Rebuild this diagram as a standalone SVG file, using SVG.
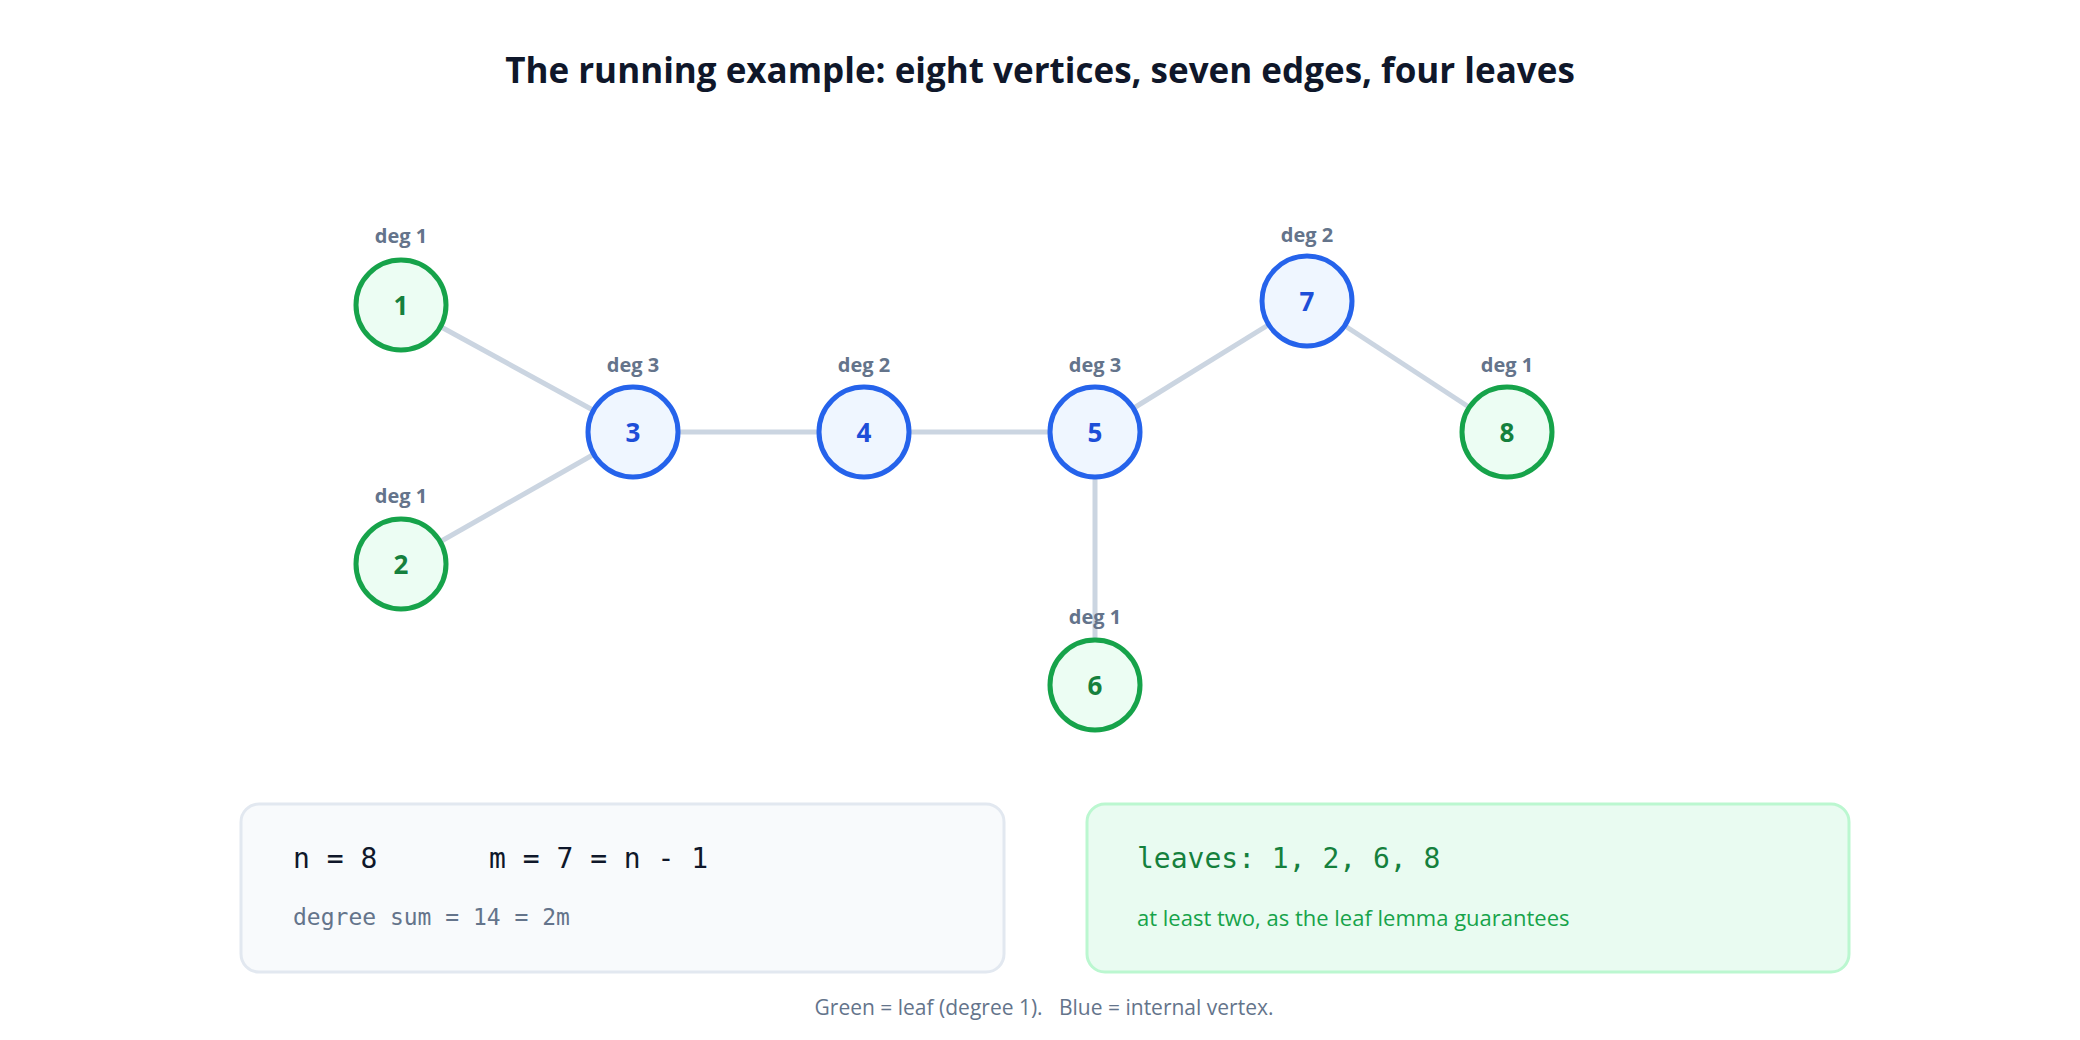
<svg xmlns="http://www.w3.org/2000/svg" width="2080" height="1040" viewBox="0 0 2080 1040">
<style>
text{font-family:"Open Sans","Noto Sans",sans-serif}
.leaf circle{fill:#ecfdf3;stroke:#16a34a;stroke-width:5}
.leaf text.n{fill:#15803d}
.int circle{fill:#eff6ff;stroke:#2563eb;stroke-width:5}
.int text.n{fill:#1d4ed8}
.n{font-size:26px;font-weight:700;text-anchor:middle}
.d{font-size:20px;font-weight:700;fill:#64748b;text-anchor:middle}
.e line{stroke:#cbd5e1;stroke-width:5}
.mono{font-family:"DejaVu Sans Mono","Liberation Mono",monospace}
</style>
<rect width="2080" height="1040" fill="#fff"/>
<text x="1040" y="83" font-size="35" font-weight="700" fill="#0f172a" text-anchor="middle">The running example: eight vertices, seven edges, four leaves</text>
<g id="edges" class="e">
<line x1="401" y1="305" x2="633" y2="432"/>
<line x1="401" y1="564" x2="633" y2="432"/>
<line x1="633" y1="432" x2="864" y2="432"/>
<line x1="864" y1="432" x2="1095" y2="432"/>
<line x1="1095" y1="432" x2="1307" y2="301"/>
<line x1="1307" y1="301" x2="1507" y2="432"/>
<line x1="1095" y1="432" x2="1095" y2="685"/>
</g>
<g id="n1" class="leaf"><text class="d" x="401" y="243">deg 1</text><circle cx="401" cy="305" r="45"/><text class="n" x="401" y="315">1</text></g>
<g id="n2" class="leaf"><text class="d" x="401" y="503">deg 1</text><circle cx="401" cy="564" r="45"/><text class="n" x="401" y="574">2</text></g>
<g id="n3" class="int"><text class="d" x="633" y="372">deg 3</text><circle cx="633" cy="432" r="45"/><text class="n" x="633" y="442">3</text></g>
<g id="n4" class="int"><text class="d" x="864" y="372">deg 2</text><circle cx="864" cy="432" r="45"/><text class="n" x="864" y="442">4</text></g>
<g id="n5" class="int"><text class="d" x="1095" y="372">deg 3</text><circle cx="1095" cy="432" r="45"/><text class="n" x="1095" y="442">5</text></g>
<g id="n6" class="leaf"><text class="d" x="1095" y="624">deg 1</text><circle cx="1095" cy="685" r="45"/><text class="n" x="1095" y="695">6</text></g>
<g id="n7" class="int"><text class="d" x="1307" y="242">deg 2</text><circle cx="1307" cy="301" r="45"/><text class="n" x="1307" y="311">7</text></g>
<g id="n8" class="leaf"><text class="d" x="1507" y="372">deg 1</text><circle cx="1507" cy="432" r="45"/><text class="n" x="1507" y="442">8</text></g>
<g id="box1"><rect x="241" y="804" width="763" height="168" rx="18" fill="#f8fafc" stroke="#e2e8f0" stroke-width="3"/>
<text class="mono" x="293" y="868" font-size="28" fill="#0f172a" xml:space="preserve">n = 8</text>
<text class="mono" x="489" y="868" font-size="28" fill="#0f172a">m = 7 = n - 1</text>
<text class="mono" x="293" y="925" font-size="23" fill="#64748b">degree sum = 14 = 2m</text></g>
<g id="box2"><rect x="1087" y="804" width="762" height="168" rx="18" fill="#e9fbf1" stroke="#bbf7d0" stroke-width="3"/>
<text class="mono" x="1137" y="868" font-size="28" fill="#15803d">leaves: 1, 2, 6, 8</text>
<text x="1137" y="926" font-size="22" fill="#16a34a">at least two, as the leaf lemma guarantees</text></g>
<text x="1044" y="1015" font-size="21" fill="#64748b" text-anchor="middle" xml:space="preserve">Green = leaf (degree 1).   Blue = internal vertex.</text>
</svg>
